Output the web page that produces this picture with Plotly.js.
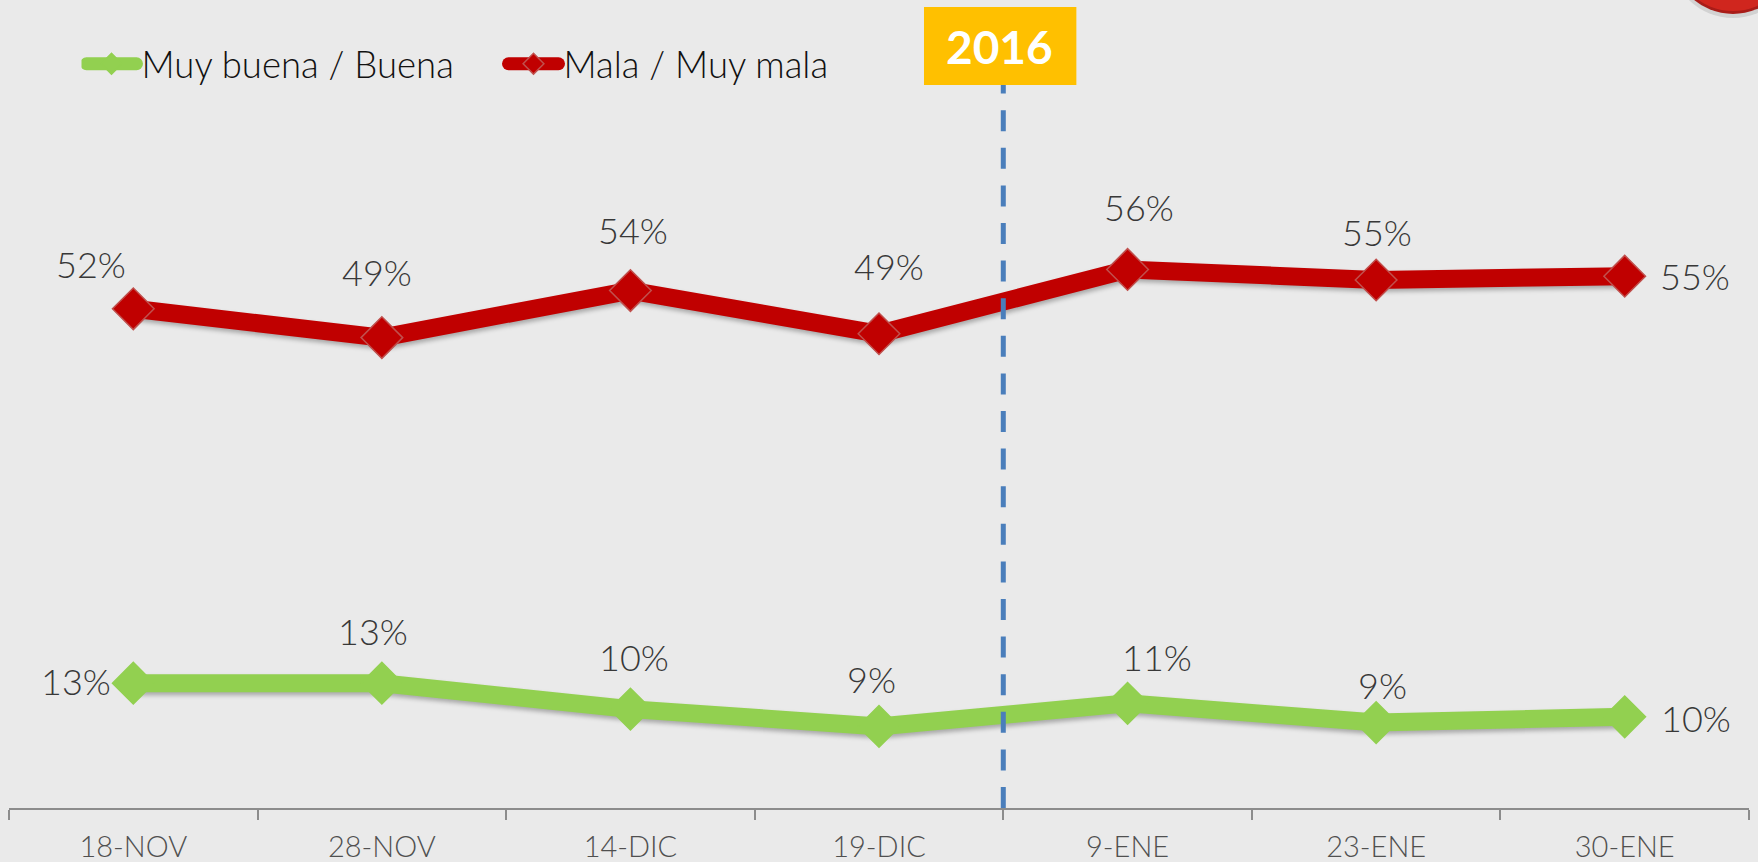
<!DOCTYPE html>
<html>
<head>
<meta charset="utf-8">
<script src="https://cdn.plot.ly/plotly-3.0.1.min.js"></script>
<style>
html,body{margin:0;padding:0;background:#EAEAEA;overflow:hidden}
.scatterlayer .js-line{filter:drop-shadow(1px 3px 2px rgba(0,0,0,.28))}
.legendlines path{stroke-width:13px !important;stroke-linecap:round}
</style>
</head>
<body>
<div id="chart" style="width:1758px;height:862px"></div>
<script>
var categories = ['18-NOV','28-NOV','14-DIC','19-DIC','9-ENE','23-ENE','30-ENE'];
var buenaName = 'Muy buena / Buena';
var malaName = 'Mala / Muy mala';
var buena = [13, 13, 10.3, 8.5, 10.9, 8.9, 9.5];
var mala = [52, 49, 53.9, 49.4, 56.1, 55, 55.4];
var buenaLabels = ['13%','13%','10%','9%','11%','9%','10%'];
var malaLabels = ['52%','49%','54%','49%','56%','55%','55%'];
var buenaDx = [-57,-9,4,-8,29,6,71];
var buenaDy = [-2,-52,-52,-47,-46,-38,1];
var malaDx = [-42,-5,3,10,11,1,70];
var malaDy = [-45,-66,-61,-68,-62,-48,0];
var FONT = 'Lato, "Open Sans", sans-serif';

function trace(name, vals, colour, edge){
  return {type:'scatter', mode:'lines+markers', name:name, x:categories, y:vals, cliponaxis:false,
    line:{color:colour, width:18},
    marker:{symbol:'diamond', size:32, color:colour, line:{color:edge, width:1.5}},
    hoverinfo:'x+y'};
}
function labels(vals, texts, dx, dy){
  return categories.map(function(c,i){
    return {x:c, y:vals[i], xref:'x', yref:'y', text:texts[i], showarrow:false,
      xshift:dx[i], yshift:-dy[i], font:{family:FONT, size:36, weight:300, color:'#383838'}};
  });
}
var annotations = labels(buena, buenaLabels, buenaDx, buenaDy).concat(labels(mala, malaLabels, malaDx, malaDy));
annotations.push({xref:'x', x:3.5, xshift:-4, yref:'paper', y:(808-46)/768, yanchor:'middle', text:'<b>2016</b>', showarrow:false,
  font:{family:FONT, size:46, color:'#FFFFFF'}});

function px(v){ return (v-9)/1740; }
function py(v){ return (808-v)/768; }
function disc(cx, cy, r, fill){
  return {type:'circle', xref:'paper', yref:'paper', x0:px(cx-r), x1:px(cx+r), y0:py(cy+r), y1:py(cy-r),
    layer:'above', fillcolor:fill, line:{width:0}};
}

var layout = {
  width:1758, height:862, autosize:false,
  margin:{l:9, r:9, t:40, b:54, pad:0},
  paper_bgcolor:'#EAEAEA', plot_bgcolor:'#EAEAEA',
  font:{family:FONT},
  showlegend:true,
  legend:{orientation:'h', x:(81.5-9)/1740, xanchor:'left', y:py(64), yanchor:'middle',
    bgcolor:'rgba(0,0,0,0)', font:{family:FONT, size:36.5, weight:300, color:'#111111'}, itemwidth:50,
    entrywidth:357, entrywidthmode:'pixels', traceorder:'normal'},
  xaxis:{type:'category', range:[-0.5,6.5], tickson:'boundaries', ticks:'outside', ticklen:10, tickwidth:1.5,
    tickcolor:'#8C8C8C', showline:true, linecolor:'#8C8C8C', linewidth:1.5, showgrid:false, zeroline:false,
    ticklabelstandoff:12,
    tickfont:{family:FONT, size:29, weight:300, color:'#505050'}, fixedrange:true},
  yaxis:{range:[0,80], visible:false, showgrid:false, zeroline:false, fixedrange:true},
  shapes:[
    {type:'line', xref:'x', x0:3.5, x1:3.5, yref:'y', y0:0, y1:75.9, layer:'above',
     line:{color:'#4A7EBB', width:5, dash:'21px,16.6px'}},
    {type:'rect', xref:'x', x0:3.181, x1:3.794, yref:'paper', y0:py(85), y1:py(7), layer:'above',
     fillcolor:'#FFC000', line:{width:0}},
    disc(1733, -45, 63, 'rgba(0,0,0,0.10)'),
    disc(1733, -47, 61, '#A81C18'),
    disc(1733, -49, 60, '#D0261E')
  ],
  annotations:annotations
};
Plotly.newPlot('chart', [trace(buenaName, buena, '#92D050', '#92D050'), trace(malaName, mala, '#C00000', '#C0504D')], layout, {displayModeBar:false, responsive:false});
</script>
</body>
</html>
